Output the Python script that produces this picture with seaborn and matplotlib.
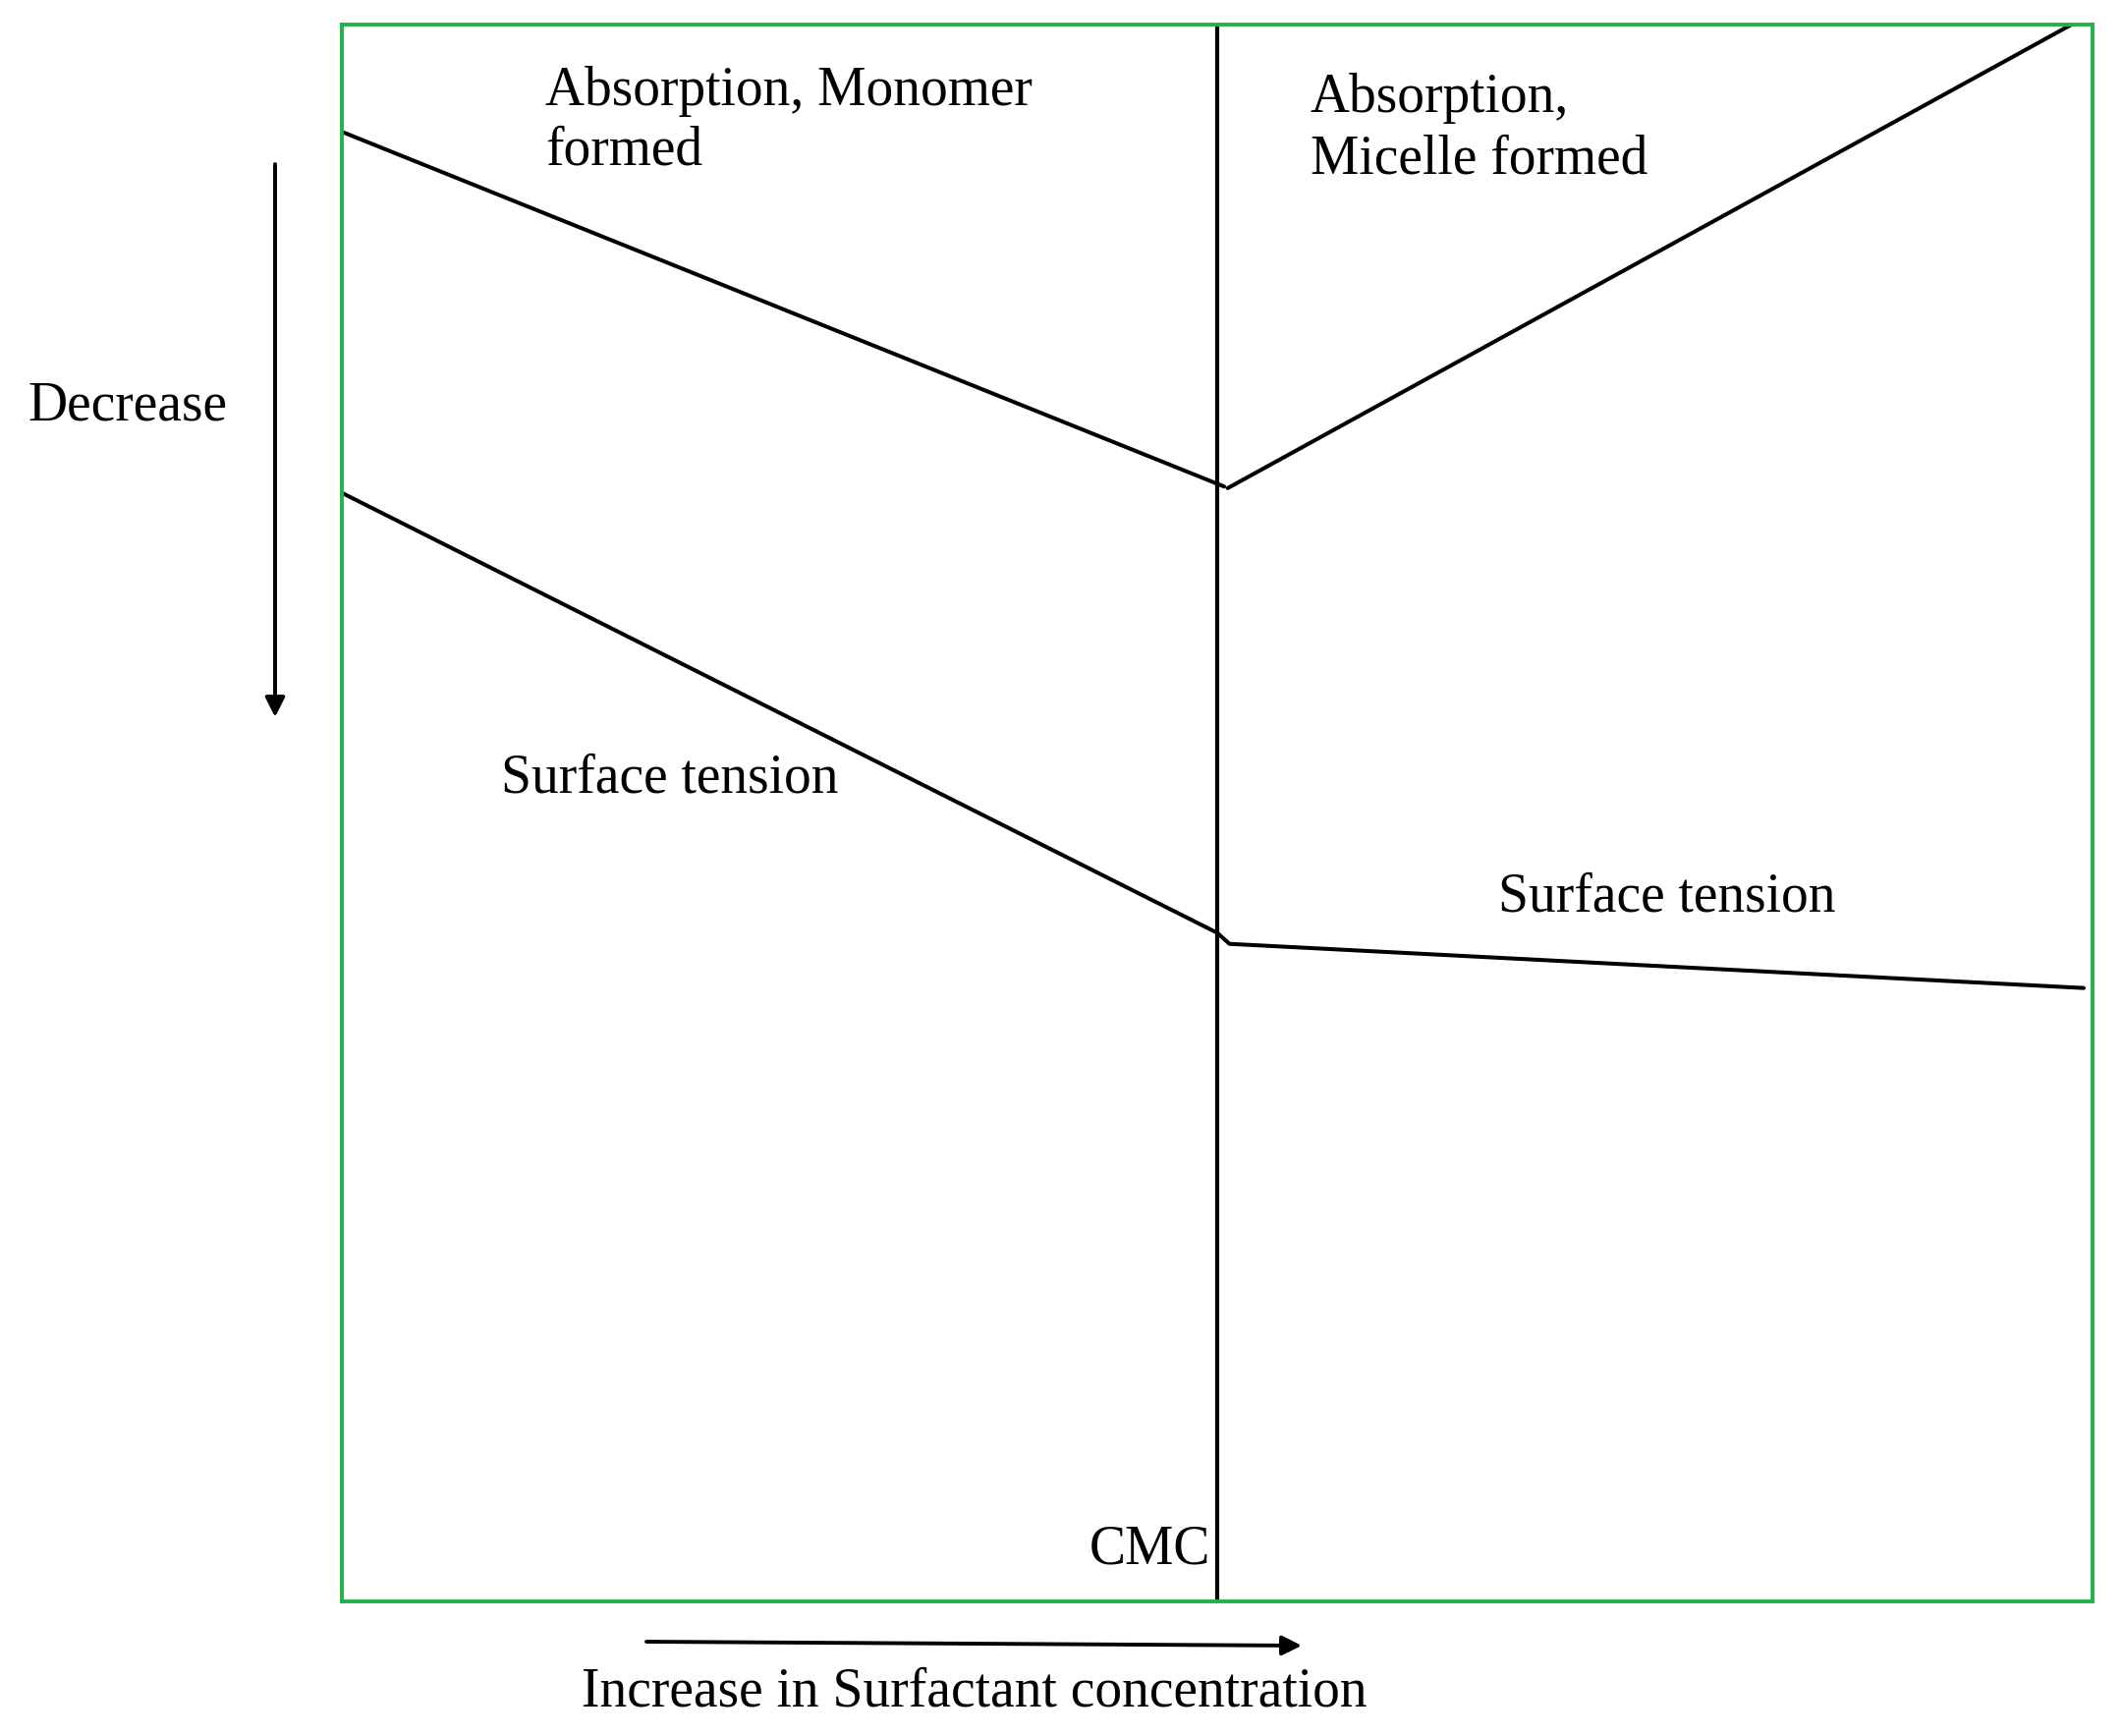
import matplotlib
matplotlib.use('Agg')
import matplotlib.pyplot as plt
import pandas as pd
import seaborn as sns

# schematic values, x = surfactant concentration (0-100), y = relative level (0-100)
cmc = 50.0

upper_left_x = [0.0, 50.4]
upper_left_y = [93.2, 70.7]
upper_right_x = [50.6, 98.8]
upper_right_y = [70.6, 100.0]

lower_x = [0.0, 50.0, 50.7, 99.5]
lower_y = [70.3, 42.4, 41.7, 38.9]

W, H = 2160, 1767
GREEN = '#22b14c'


def fx(px):
    return px / W


def fy(py):
    return 1 - py / H


def main():
    sns.set_style('white')
    plt.rcParams['font.family'] = ['Liberation Serif', 'DejaVu Serif']

    fig = plt.figure(figsize=(W / 100, H / 100), dpi=100)
    ax = fig.add_axes([fx(348), fy(1630), fx(2130) - fx(348), (1630 - 25) / H])

    segs = [
        ('upper_left', upper_left_x, upper_left_y),
        ('upper_right', upper_right_x, upper_right_y),
        ('lower', lower_x, lower_y),
    ]
    for name, xs, ys in segs:
        df = pd.DataFrame({'x': xs, 'y': ys})
        sns.lineplot(data=df, x='x', y='y', ax=ax, color='black', lw=2.9,
                     sort=False, estimator=None)

    ax.axvline(cmc, color='black', lw=3.0)

    ax.set_xlim(0, 100)
    ax.set_ylim(0, 100)
    ax.set_xticks([])
    ax.set_yticks([])
    ax.set_xlabel('')
    ax.set_ylabel('')
    for s in ax.spines.values():
        s.set_color(GREEN)
        s.set_linewidth(2.8)
        s.set_visible(True)

    fs = 40
    texts = [
        (555, 107, 'Absorption, Monomer'),
        (555, 168, 'formed'),
        (1334, 114, 'Absorption,'),
        (1334, 176, 'Micelle formed'),
        (28, 427, 'Decrease'),
        (510, 806, 'Surface tension'),
        (1525, 927, 'Surface tension'),
        (1109, 1591, 'CMC'),
        (592, 1736, 'Increase in Surfactant concentration'),
    ]
    for px, py, t in texts:
        fig.text(fx(px), fy(py), t, fontsize=fs, ha='left', va='baseline',
                 color='black')

    arrow = dict(arrowstyle='-|>', mutation_scale=30, lw=2.8, color='black',
                 shrinkA=0, shrinkB=0)
    ax.annotate('', xy=(fx(280), fy(730)), xytext=(fx(280), fy(167)),
                xycoords='figure fraction', textcoords='figure fraction',
                arrowprops=arrow, annotation_clip=False)
    ax.annotate('', xy=(fx(1325), fy(1675)), xytext=(fx(658), fy(1671)),
                xycoords='figure fraction', textcoords='figure fraction',
                arrowprops=arrow, annotation_clip=False)

    fig.savefig('out.png', dpi=100, facecolor='white')


if __name__ == '__main__':
    main()
